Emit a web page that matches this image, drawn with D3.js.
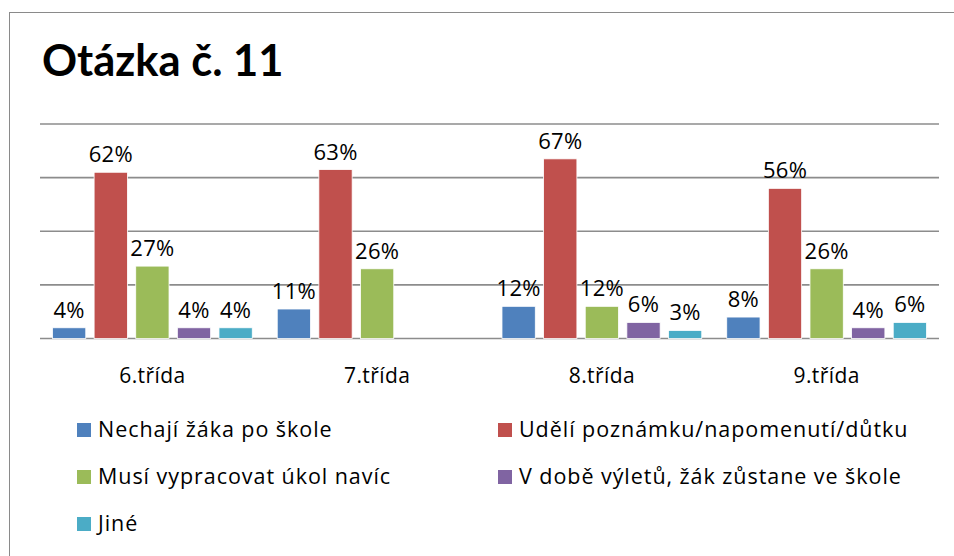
<!DOCTYPE html>
<html>
<head>
<meta charset="utf-8">
<script src="https://cdn.jsdelivr.net/npm/d3@7"></script>
<style>
  body { margin: 0; background: #fff; }
  svg text { font-family: 'Open Sans', sans-serif; fill: #000; }
</style>
</head>
<body>
<div id="chart"></div>
<script>
// Otázka č. 11 - sloupcový graf po třídách
const title = 'Otázka č. 11';
const classes = ['6.třída', '7.třída', '8.třída', '9.třída'];
const answers = [
  'Nechají žáka po škole',
  'Udělí poznámku/napomenutí/důtku',
  'Musí vypracovat úkol navíc',
  'V době výletů, žák zůstane ve škole',
  'Jiné'
];
// hodnoty v % pro každou odpověď (pořadí tříd jako v classes), null = bez sloupce
const nechaji = [4, 11, 12, 8];
const udeli = [62, 63, 67, 56];
const ukol = [27, 26, 12, 26];
const vylety = [4, null, 6, 4];
const jine = [4, null, 3, 6];
const yTicks = [0, 20, 40, 60, 80];
const colors = ['#4F81BD', '#C0504D', '#9BBB59', '#8064A2', '#4BACC6'];

const series = [nechaji, udeli, ukol, vylety, jine];
const rows = classes.map((c, i) => ({
  cls: c,
  values: answers.map((a, j) => ({ answer: a, value: series[j][i] }))
}));

const width = 954, height = 556;
const plot = { left: 40, right: 939, top: 124, bottom: 338.5 };

const svg = d3.select('#chart').append('svg')
  .attr('width', width)
  .attr('height', height);

// rámeček grafu
svg.append('rect')
  .attr('x', 9.5).attr('y', 12.5)
  .attr('width', 960).attr('height', 560)
  .attr('fill', 'none')
  .attr('stroke', '#8a8a8a')
  .attr('stroke-width', 1);

svg.append('text')
  .attr('x', 42)
  .attr('y', 76)
  .style('font-family', 'Lato, sans-serif')
  .style('font-size', '43.5px')
  .style('font-weight', 'bold')
  .text(title);

// Scale
const x0 = d3.scaleBand()
  .domain(classes)
  .range([plot.left, plot.right]);

const x1 = d3.scaleBand()
  .domain(answers)
  .range([0, x0.bandwidth()])
  .paddingInner(0.2)
  .paddingOuter(0.3);

const y = d3.scaleLinear()
  .domain([0, 80])
  .range([plot.bottom, plot.top]);

const color = d3.scaleOrdinal().domain(answers).range(colors);

// mřížka
svg.append('g')
  .selectAll('line')
  .data(yTicks)
  .join('line')
  .attr('x1', plot.left)
  .attr('x2', plot.right)
  .attr('y1', d => y(d))
  .attr('y2', d => y(d))
  .attr('stroke', '#8c8c8c')
  .attr('stroke-width', 1.6);

// popisky tříd
const xAxis = svg.append('g')
  .attr('transform', `translate(0,${plot.bottom})`)
  .call(d3.axisBottom(x0).tickSize(0).tickPadding(0));
xAxis.select('.domain').remove();
xAxis.selectAll('text')
  .attr('y', 44)
  .attr('dy', null)
  .style('font-family', "'Open Sans', sans-serif")
  .style('font-size', '21px')
  .style('letter-spacing', '0.4px')
  .attr('fill', '#000');

// sloupce
const groups = svg.append('g')
  .selectAll('g')
  .data(rows)
  .join('g')
  .attr('transform', d => `translate(${x0(d.cls)},0)`);

const bars = groups.selectAll('g')
  .data(d => d.values.filter(v => v.value !== null))
  .join('g');

bars.append('rect')
  .attr('x', d => x1(d.answer))
  .attr('width', x1.bandwidth())
  .attr('y', d => y(d.value))
  .attr('height', d => y(0) - y(d.value))
  .attr('fill', d => color(d.answer))
  .attr('stroke', '#fff')
  .attr('stroke-width', 0.8);

bars.append('text')
  .attr('x', d => x1(d.answer) + x1.bandwidth() / 2)
  .attr('y', d => y(d.value) - 10)
  .attr('text-anchor', 'middle')
  .style('font-size', '22px')
  .style('letter-spacing', '0.3px')
  .text(d => d.value + '%');

// legenda
const legend = svg.append('g')
  .selectAll('g')
  .data(answers)
  .join('g')
  .attr('transform', (d, i) => `translate(${i % 2 === 0 ? 77 : 498},${423 + Math.floor(i / 2) * 47})`);

legend.append('rect')
  .attr('width', 14)
  .attr('height', 14)
  .attr('fill', d => color(d));

legend.append('text')
  .attr('x', 21)
  .attr('y', 14)
  .style('font-size', '21.5px')
  .style('letter-spacing', '0.95px')
  .text(d => d);
</script>
</body>
</html>
